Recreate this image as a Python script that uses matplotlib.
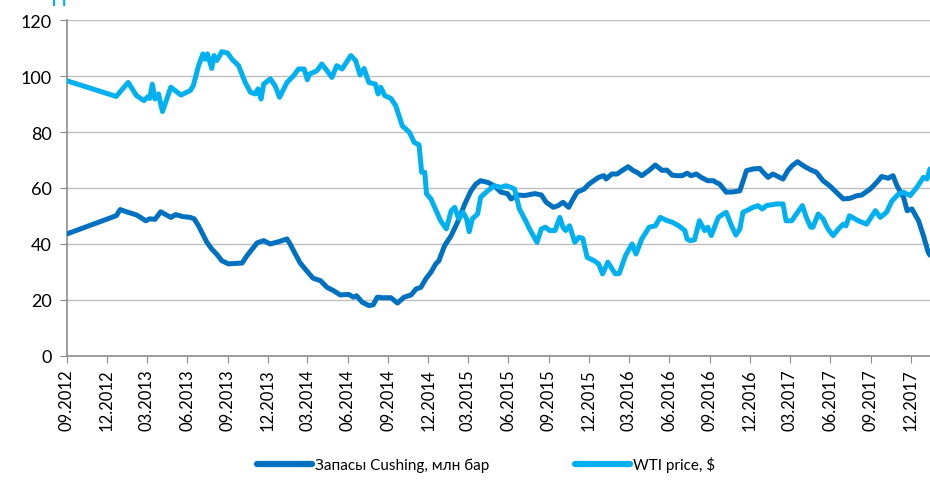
import numpy as np
import pandas as pd
import matplotlib
matplotlib.use('Agg')
from matplotlib import pyplot as plt
import matplotlib.dates as mdates

plt.rcParams['font.family'] = ['Lato', 'DejaVu Sans']

# -----------------------------------------------
# данные: WTI price, $
wti_dates = [
    '2012-09-01', '2012-12-22', '2012-12-30', '2013-01-18', '2013-02-06', '2013-02-23',
    '2013-03-03', '2013-03-08', '2013-03-14', '2013-03-20', '2013-03-28', '2013-04-06',
    '2013-04-25', '2013-05-18', '2013-06-08', '2013-06-15', '2013-06-27', '2013-07-07',
    '2013-07-12', '2013-07-17', '2013-07-27', '2013-08-01', '2013-08-07', '2013-08-13',
    '2013-08-19', '2013-09-01', '2013-09-11', '2013-09-26', '2013-10-11', '2013-10-23',
    '2013-11-03', '2013-11-09', '2013-11-16', '2013-11-22', '2013-12-07', '2013-12-18',
    '2013-12-28', '2014-01-14', '2014-01-29', '2014-02-09', '2014-02-22', '2014-03-01',
    '2014-03-06', '2014-03-18', '2014-03-23', '2014-04-03', '2014-04-15', '2014-04-26',
    '2014-05-07', '2014-05-19', '2014-06-08', '2014-06-19', '2014-06-29', '2014-07-08',
    '2014-07-19', '2014-08-03', '2014-08-09', '2014-08-15', '2014-08-24', '2014-09-07',
    '2014-09-18', '2014-10-03', '2014-10-19', '2014-10-30', '2014-11-10', '2014-11-16',
    '2014-11-23', '2014-11-27', '2014-12-07', '2014-12-24', '2014-12-29', '2015-01-11',
    '2015-01-22', '2015-01-30', '2015-02-08', '2015-02-18', '2015-02-26', '2015-03-04',
    '2015-03-11', '2015-03-23', '2015-03-30', '2015-04-15', '2015-04-30', '2015-05-15',
    '2015-05-26', '2015-06-07', '2015-06-15', '2015-06-26', '2015-07-08', '2015-07-19',
    '2015-08-05', '2015-08-15', '2015-08-24', '2015-09-03', '2015-09-15', '2015-09-26',
    '2015-10-03', '2015-10-09', '2015-10-18', '2015-10-30', '2015-11-08', '2015-11-17',
    '2015-11-27', '2015-12-12', '2015-12-23', '2016-01-01', '2016-01-13', '2016-01-30',
    '2016-02-08', '2016-02-22', '2016-03-08', '2016-03-17', '2016-03-30', '2016-04-16',
    '2016-04-30', '2016-05-11', '2016-05-26', '2016-06-07', '2016-06-22', '2016-07-06',
    '2016-07-11', '2016-07-18', '2016-07-28', '2016-08-08', '2016-08-20', '2016-08-27',
    '2016-09-04', '2016-09-20', '2016-10-01', '2016-10-08', '2016-10-20', '2016-10-30',
    '2016-11-08', '2016-11-15', '2016-11-23', '2016-12-08', '2016-12-19', '2016-12-29',
    '2017-01-07', '2017-01-30', '2017-02-14', '2017-02-21', '2017-03-06', '2017-03-19',
    '2017-03-30', '2017-04-08', '2017-04-18', '2017-04-23', '2017-05-05', '2017-05-16',
    '2017-05-27', '2017-06-08', '2017-06-20', '2017-07-01', '2017-07-07', '2017-07-15',
    '2017-08-04', '2017-08-23', '2017-09-12', '2017-09-23', '2017-10-07', '2017-10-20',
    '2017-11-04', '2017-11-15', '2017-11-30', '2017-12-15', '2017-12-30', '2018-01-07',
    '2018-01-14',
]
wti_values = [
    98.3, 92.7, 94.2, 97.7, 93.0, 91.2,
    92.5, 92.0, 97.1, 91.8, 93.6, 87.3,
    96.0, 93.2, 94.8, 96.5, 103.7, 107.9,
    106.0, 107.9, 102.7, 107.3, 105.5, 107.0,
    108.7, 108.2, 106.0, 103.7, 97.7, 94.2,
    93.6, 95.4, 91.8, 97.1, 99.0, 96.5,
    92.4, 97.7, 100.1, 102.5, 102.5, 98.7,
    100.7, 101.5, 101.9, 104.3, 101.9, 99.5,
    103.7, 102.5, 107.3, 105.5, 100.4, 102.7,
    97.7, 97.1, 93.6, 96.0, 93.0, 92.0,
    89.4, 82.2, 79.9, 76.3, 75.4, 65.6,
    65.6, 57.9, 56.1, 50.0, 48.3, 45.4,
    51.9, 53.1, 49.0, 51.3, 49.0, 44.4,
    49.0, 50.7, 56.7, 59.0, 60.8, 60.2,
    60.8, 60.2, 59.6, 52.5, 49.0, 45.4,
    40.6, 45.4, 46.0, 44.8, 44.8, 49.5,
    46.0, 44.8, 46.5, 40.6, 42.4, 42.0,
    35.2, 34.1, 32.9, 29.3, 33.5, 29.3,
    29.5, 35.8, 40.0, 36.4, 41.8, 46.0,
    46.5, 49.5, 48.4, 47.8, 46.5, 44.8,
    41.8, 41.2, 41.5, 48.3, 44.8, 46.0,
    43.0, 49.5, 50.7, 51.3, 46.5, 43.2,
    45.4, 51.3, 51.9, 53.1, 53.7, 52.5,
    53.7, 54.3, 54.3, 48.3, 48.3, 51.3,
    53.7, 49.5, 46.0, 46.0, 50.7, 49.0,
    45.4, 43.0, 45.4, 47.1, 46.5, 50.1,
    48.3, 47.1, 51.9, 49.5, 51.3, 55.5,
    57.9, 58.5, 57.3, 60.2, 63.8, 63.2,
    66.8,
]

# данные: Запасы Cushing, млн бар
cush_dates = [
    '2012-09-01', '2012-12-22', '2012-12-31', '2013-01-14', '2013-02-06', '2013-02-27',
    '2013-03-08', '2013-03-20', '2013-04-02', '2013-04-25', '2013-05-06', '2013-05-22',
    '2013-06-08', '2013-06-17', '2013-06-27', '2013-07-16', '2013-07-27', '2013-08-07',
    '2013-08-19', '2013-09-03', '2013-10-04', '2013-10-15', '2013-10-27', '2013-11-07',
    '2013-11-22', '2013-12-07', '2013-12-30', '2014-01-14', '2014-01-21', '2014-02-02',
    '2014-02-13', '2014-02-24', '2014-03-14', '2014-03-31', '2014-04-15', '2014-04-30',
    '2014-05-15', '2014-06-03', '2014-06-14', '2014-06-21', '2014-07-04', '2014-07-19',
    '2014-07-29', '2014-08-07', '2014-08-18', '2014-09-07', '2014-09-22', '2014-10-07',
    '2014-10-23', '2014-11-03', '2014-11-14', '2014-11-26', '2014-12-07', '2014-12-18',
    '2014-12-25', '2015-01-07', '2015-01-22', '2015-02-07', '2015-02-22', '2015-03-08',
    '2015-03-19', '2015-03-30', '2015-04-15', '2015-04-30', '2015-05-15', '2015-05-30',
    '2015-06-07', '2015-06-23', '2015-07-08', '2015-07-31', '2015-08-15', '2015-08-26',
    '2015-09-11', '2015-09-22', '2015-10-03', '2015-10-16', '2015-10-24', '2015-11-04',
    '2015-11-20', '2015-12-01', '2015-12-12', '2015-12-23', '2016-01-04', '2016-01-09',
    '2016-01-22', '2016-02-03', '2016-02-14', '2016-02-28', '2016-03-11', '2016-03-19',
    '2016-03-30', '2016-04-15', '2016-04-30', '2016-05-15', '2016-05-26', '2016-06-07',
    '2016-06-18', '2016-06-30', '2016-07-11', '2016-07-20', '2016-08-01', '2016-08-12',
    '2016-08-27', '2016-09-09', '2016-09-15', '2016-09-23', '2016-10-08', '2016-10-23',
    '2016-11-08', '2016-11-23', '2016-12-08', '2016-12-23', '2016-12-31', '2017-01-11',
    '2017-01-22', '2017-02-14', '2017-02-25', '2017-03-07', '2017-03-19', '2017-03-26',
    '2017-04-07', '2017-04-18', '2017-05-01', '2017-05-16', '2017-05-31', '2017-06-15',
    '2017-07-01', '2017-07-16', '2017-07-31', '2017-08-12', '2017-08-31', '2017-09-15',
    '2017-09-26', '2017-10-11', '2017-10-22', '2017-10-31', '2017-11-15', '2017-11-23',
    '2017-12-04', '2017-12-19', '2017-12-30', '2018-01-10', '2018-01-14',
]
cush_values = [
    43.6, 50.1, 52.3, 51.5, 50.4, 48.3,
    49.0, 48.8, 51.5, 49.5, 50.5, 49.8,
    49.5, 49.0, 46.5, 40.6, 38.2, 36.4,
    34.0, 32.9, 33.2, 35.8, 38.2, 40.4,
    41.2, 40.0, 41.0, 41.8, 40.0, 36.4,
    33.2, 31.1, 27.8, 26.9, 24.5, 23.3,
    21.8, 22.0, 21.0, 21.5, 19.2, 18.0,
    18.3, 21.0, 20.8, 20.8, 18.9, 21.0,
    21.8, 23.9, 24.5, 27.7, 29.9, 32.9,
    34.0, 39.4, 43.0, 48.3, 54.3, 59.0,
    61.4, 62.6, 62.0, 60.8, 58.5, 58.0,
    56.1, 57.5, 57.3, 58.0, 57.5, 54.9,
    53.1, 53.7, 54.9, 53.1, 55.5, 58.5,
    59.6, 61.4, 62.6, 63.8, 64.4, 63.2,
    65.0, 65.0, 66.2, 67.6, 66.2, 65.6,
    64.4, 66.2, 68.2, 66.3, 66.4, 64.6,
    64.4, 64.4, 65.3, 64.4, 65.0, 63.8,
    62.6, 62.6, 62.0, 61.4, 58.5, 58.6,
    59.0, 66.2, 66.8, 67.0, 65.6, 63.8,
    65.0, 63.2, 66.2, 68.0, 69.4, 68.6,
    67.4, 66.5, 65.6, 62.6, 60.8, 58.5,
    56.1, 56.3, 57.2, 57.5, 59.6, 62.0,
    64.1, 63.5, 64.4, 60.8, 56.6, 51.9,
    52.5, 48.3, 43.0, 37.0, 36.0,
]

series_labels = ['Запасы Cushing, млн бар', 'WTI price, $']
y_ticks = [0, 20, 40, 60, 80, 100, 120]
# -----------------------------------------------

wti = pd.Series(wti_values, index=pd.to_datetime(wti_dates))
cush = pd.Series(cush_values, index=pd.to_datetime(cush_dates))

fig = plt.figure(figsize=(9.30, 4.89), dpi=100)
ax = fig.add_axes([0.072, 0.270, 0.928, 0.687])

ax.plot(cush.index, cush.values, color='#0070C0', lw=3.6, label=series_labels[0],
        solid_joinstyle='round', solid_capstyle='round', zorder=3)
ax.plot(wti.index, wti.values, color='#00B0F0', lw=3.6, label=series_labels[1],
        solid_joinstyle='round', solid_capstyle='round', zorder=3)

ax.set_ylim(0, 120)
ax.set_yticks(y_ticks)
ax.set_xlim(pd.Timestamp('2012-09-01'), pd.Timestamp('2018-01-14'))
ax.xaxis.set_major_locator(mdates.MonthLocator(bymonth=[3, 6, 9, 12], bymonthday=1))
ax.xaxis.set_major_formatter(mdates.DateFormatter('%m.%Y'))

ax.yaxis.grid(True, color='#BFBFBF', lw=1.0)
ax.set_axisbelow(True)
for s in ['top', 'right']:
    ax.spines[s].set_visible(False)
for s in ['left', 'bottom']:
    ax.spines[s].set_color('#8C8C8C')
    ax.spines[s].set_linewidth(1.2)

ax.tick_params(axis='y', length=5, color='#8C8C8C', labelsize=13, pad=6)
ax.tick_params(axis='x', length=5, color='#8C8C8C', labelsize=12, rotation=90, pad=4)

leg = ax.legend(loc='center', bbox_to_anchor=(0.486, -0.322), ncol=2, frameon=False,
                fontsize=11, handlelength=3.6, columnspacing=5.6, handletextpad=0.2)
for h in leg.get_lines():
    h.set_linewidth(4.5)

# обрезанный заголовок сверху
fig.text(0.055, 1 - 6 / 489, 'П', color='#00B0F0', fontsize=16, va='baseline', ha='left')

fig.savefig('out.png', dpi=100)
